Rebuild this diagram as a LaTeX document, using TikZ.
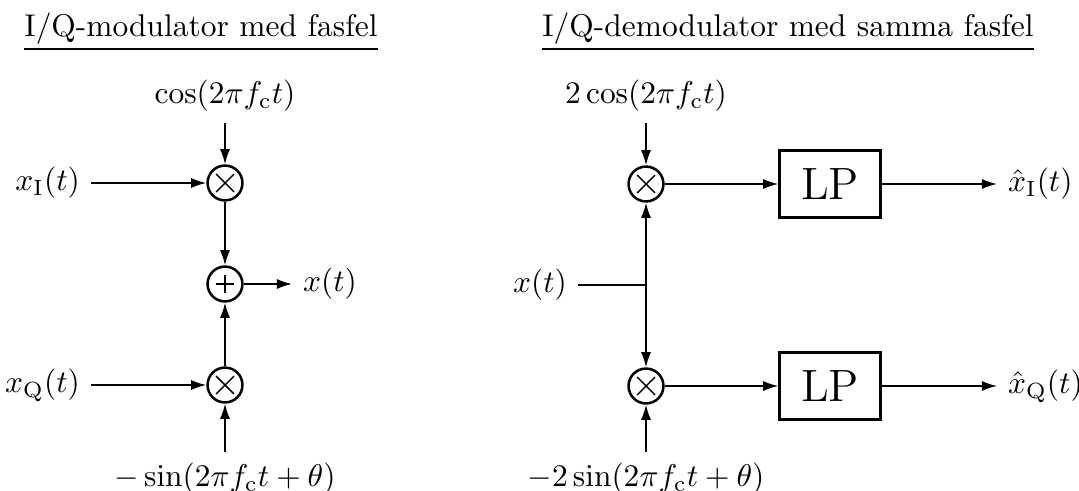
\documentclass[tikz,border=0pt]{standalone}
\usetikzlibrary{arrows.meta}
\begin{document}
\begin{tikzpicture}[x=0.318pt,y=-0.318pt,
  sig/.style={line width=0.5pt,-{Latex[length=4.8pt,width=3.2pt]}},
  wire/.style={line width=0.5pt},
  opnode/.style={circle,draw,line width=0.8pt,minimum size=11.1pt,inner sep=0pt},
  lpbox/.style={draw,line width=0.8pt,minimum width=32.1pt,minimum height=21.3pt,inner sep=0pt,font=\Large},
  lbl/.style={inner sep=3.33pt},
  head/.style={inner sep=0pt,anchor=base}]
\useasboundingbox (0,0) rectangle (1079,491);

% ---------- headings ----------
\node[head] (h1) at (201,37) {I/Q-modulator med fasfel};
\draw[line width=0.9pt] ([yshift=-3.8pt]h1.base west) -- ([yshift=-3.8pt]h1.base east);
\node[head] (h2) at (788,37) {I/Q-demodulator med samma fasfel};
\draw[line width=0.9pt] ([yshift=-3.8pt]h2.base west) -- ([yshift=-3.8pt]h2.base east);

% ---------- modulator ----------
\node[opnode] (m1) at (225,183) {};
\draw[line width=0.45pt] ([shift={(-45:4pt)}]m1.center) -- ([shift={(135:4pt)}]m1.center)
  ([shift={(45:4pt)}]m1.center) -- ([shift={(-135:4pt)}]m1.center);
\node[opnode] (add) at (225,284) {};
\draw[line width=0.45pt] ([xshift=-3pt]add.center) -- ([xshift=3pt]add.center)
  ([yshift=-3pt]add.center) -- ([yshift=3pt]add.center);
\node[opnode] (m2) at (225,385) {};
\draw[line width=0.45pt] ([shift={(-45:4pt)}]m2.center) -- ([shift={(135:4pt)}]m2.center)
  ([shift={(45:4pt)}]m2.center) -- ([shift={(-135:4pt)}]m2.center);

\node[lbl] (cosl) at (225,96) {$\cos(2\pi f_{\mathrm{c}}t)$};
\node[lbl,anchor=east] (xi) at (91,183) {$x_{\mathrm{I}}(t)$};
\node[lbl,anchor=east] (xq) at (91,385) {$x_{\mathrm{Q}}(t)$};
\node[lbl,anchor=west] (xout) at (292,284) {$x(t)$};
\node[lbl,anchor=north] (sinl) at (225,452) {$-\sin(2\pi f_{\mathrm{c}}t+\theta)$};

\draw[sig] (cosl.south) -- (m1.north);
\draw[sig] (xi.east) -- (m1.west);
\draw[sig] (m1.south) -- (add.north);
\draw[sig] (m2.north) -- (add.south);
\draw[sig] (add.east) -- (xout.west);
\draw[sig] (xq.east) -- (m2.west);
\draw[sig] (sinl.north) -- (m2.south);

% ---------- demodulator ----------
\node[opnode] (d1) at (646,184) {};
\draw[line width=0.45pt] ([shift={(-45:4pt)}]d1.center) -- ([shift={(135:4pt)}]d1.center)
  ([shift={(45:4pt)}]d1.center) -- ([shift={(-135:4pt)}]d1.center);
\node[opnode] (d2) at (646,386) {};
\draw[line width=0.45pt] ([shift={(-45:4pt)}]d2.center) -- ([shift={(135:4pt)}]d2.center)
  ([shift={(45:4pt)}]d2.center) -- ([shift={(-135:4pt)}]d2.center);
\node[lpbox] (lp1) at (830,184) {LP};
\node[lpbox] (lp2) at (830,386) {LP};

\node[lbl] (cos2) at (646,96) {$2\cos(2\pi f_{\mathrm{c}}t)$};
\node[lbl,anchor=north] (sin2) at (646,452) {$-2\sin(2\pi f_{\mathrm{c}}t+\theta)$};
\node[lbl,anchor=east] (xin) at (578,285) {$x(t)$};
\coordinate (j) at (646,285);
\node[lbl,anchor=west] (xhi) at (997,184) {$\hat{x}_{\mathrm{I}}(t)$};
\node[lbl,anchor=west] (xhq) at (997,386) {$\hat{x}_{\mathrm{Q}}(t)$};

\draw[sig] (cos2.south) -- (d1.north);
\draw[wire] (xin.east) -- (j);
\draw[sig] (j) -- (d1.south);
\draw[sig] (j) -- (d2.north);
\draw[sig] (sin2.north) -- (d2.south);
\draw[sig] (d1.east) -- (lp1.west);
\draw[sig] (d2.east) -- (lp2.west);
\draw[sig] (lp1.east) -- (xhi.west);
\draw[sig] (lp2.east) -- (xhq.west);
\end{tikzpicture}
\end{document}
